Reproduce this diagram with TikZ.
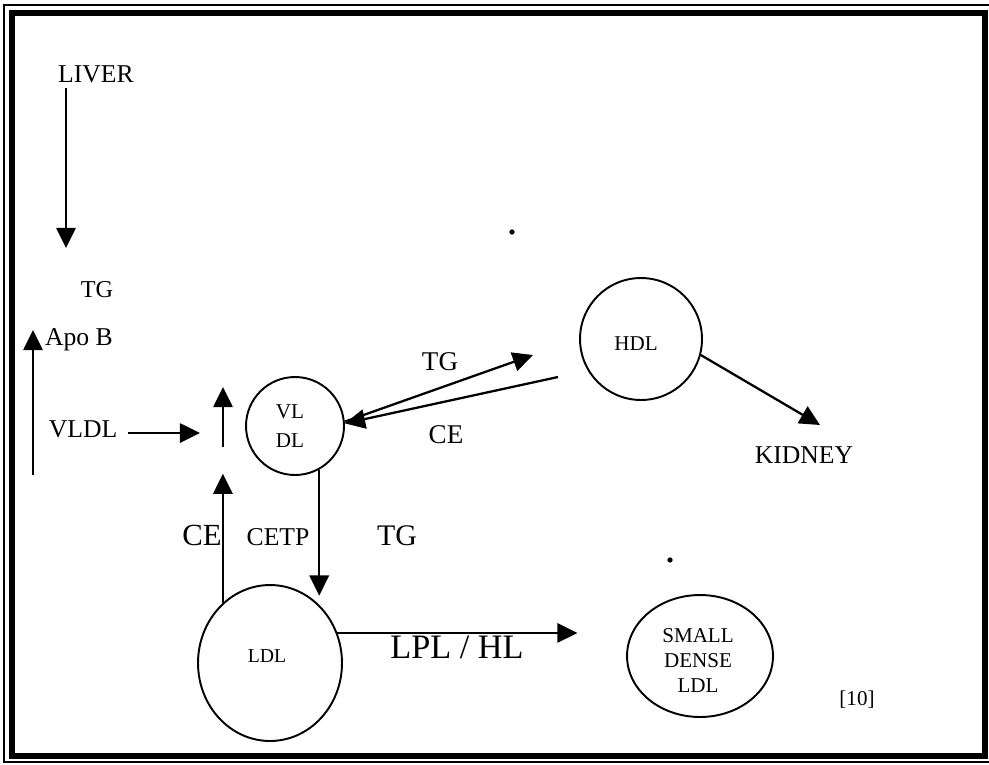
\documentclass[tikz,border=0pt]{standalone}
\usepackage{fontspec}
\setmainfont{Liberation Serif}
\usetikzlibrary{arrows.meta,shapes.geometric}
\begin{document}
\begin{tikzpicture}[x=0.02cm,y=-0.02cm,
  arr/.style={line width=1.3pt,-{Triangle[length=11.5pt,width=11pt]}},
  ring/.style={draw,line width=1.1pt,circle,inner sep=0pt},
  oval/.style={draw,line width=1.1pt,ellipse,inner sep=0pt},
  txt/.style={anchor=base,inner sep=0pt,font=\fontsize{14.6}{17}\selectfont},
  big/.style={anchor=base,inner sep=0pt,font=\fontsize{17.5}{20}\selectfont},
  small/.style={anchor=base,inner sep=0pt,font=\fontsize{11.5}{14}\selectfont},
  speck/.style={fill,circle,inner sep=0pt,minimum size=3pt}]
\useasboundingbox (0,0) rectangle (989,764);
% frame
\draw[line width=0.7pt] (989,5) -- (4,5) -- (4,762) -- (989,762);
\draw[line width=3.2pt] (12,13) rectangle (985,756);

% left column
\node[txt] (liver) at (96,82) {LIVER};
\coordinate (lv1) at (66,88);
\coordinate (lv2) at (66,248);
\draw[arr] (lv1) -- (lv2);
\node[txt,font=\fontsize{13.8}{16}\selectfont] (tg1) at (97,297) {TG};
\node[txt] (apob) at (79,345) {Apo B};
\coordinate (ap1) at (33,475);
\coordinate (ap2) at (33,330);
\draw[arr] (ap1) -- (ap2);
\node[txt] (vldltxt) at (83,437) {VLDL};
\coordinate (vl1) at (128,433);
\coordinate (vl2) at (200,433);
\draw[arr] (vl1) -- (vl2);
\coordinate (up1) at (223,447);
\coordinate (up2) at (223,387);
\draw[arr] (up1) -- (up2);

% VLDL circle
\node[ring,minimum size=1.96cm] (vldl) at (295,426) {};
\node[small,font=\fontsize{12}{14}\selectfont] (vltxt) at (290,418) {VL};
\node[small,font=\fontsize{12}{14}\selectfont] (dltxt) at (290,447) {DL};

% HDL
\node[ring,minimum size=2.44cm] (hdl) at (641,339) {};
\node[small,font=\fontsize{12}{14}\selectfont] (hdltxt) at (636,350) {HDL};
\coordinate (tgtip) at (533,355);
\coordinate (cestart) at (558,377);
\draw[arr] (vldl.5) -- (tgtip);
\draw[arr] (cestart) -- (vldl.3);
\node[txt,font=\fontsize{15.4}{18}\selectfont] (tg2) at (440,370) {TG};
\node[txt,font=\fontsize{15.4}{18}\selectfont] (ce2) at (446,443) {CE};
\coordinate (kid) at (820,425);
\draw[arr] (hdl.-15) -- (kid);
\node[txt] (kidney) at (804,463) {KIDNEY};

% LDL
\node[oval,minimum width=2.88cm,minimum height=3.12cm] (ldl) at (270,663) {};
\node[small,font=\fontsize{11.2}{13}\selectfont] (ldltxt) at (267,662) {LDL};
\draw[arr] (vldl.-61) -- ++(0,126);
\draw[arr] (ldl.128.5) -- ++(0,-129);
\node[big] (ce3) at (202,545) {CE};
\node[txt] (cetp) at (278,545) {CETP};
\node[big,font=\fontsize{17}{20}\selectfont] (tg3) at (397,545) {TG};
\draw[arr] (ldl.24) -- ++(240,0);
\node[big,font=\fontsize{19.5}{22}\selectfont] (lpl) at (457,658) {LPL / HL};

% small dense LDL
\node[oval,minimum width=2.92cm,minimum height=2.44cm] (sdldl) at (700,656) {};
\node[small,font=\fontsize{12}{14}\selectfont] (s1) at (698,642) {SMALL};
\node[small,font=\fontsize{12}{14}\selectfont] (s2) at (698,667) {DENSE};
\node[small,font=\fontsize{12}{14}\selectfont] (s3) at (698,692) {LDL};
\node[small,font=\fontsize{12}{14}\selectfont] (ref) at (857,705) {[10]};

% specks
\node[speck] (d1) at (512,232) {};
\node[speck] (d2) at (670,560) {};
\end{tikzpicture}
\end{document}
